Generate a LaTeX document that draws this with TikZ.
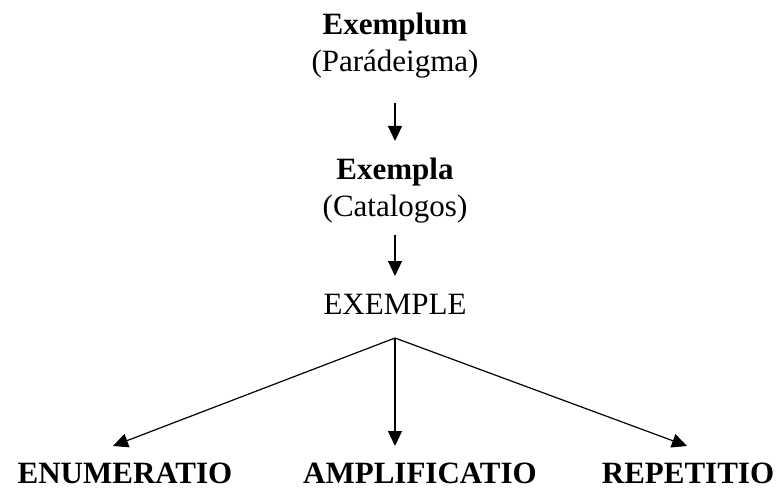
\documentclass[tikz,border=0pt]{standalone}
\usepackage{fontspec}
\setmainfont{Liberation Serif}
\usetikzlibrary{arrows.meta}

\begin{document}
\begin{tikzpicture}[x=1pt,y=-1pt,
  lbl/.style={inner sep=0pt,anchor=base,font=\fontsize{31pt}{37pt}\selectfont},
  arr/.style={line width=1.2pt,-{Triangle[length=15pt,width=14pt]}}]
\useasboundingbox (0,0) rectangle (779,489);

% Upper chain
\node[lbl] (exemplum) at (395,35) {\textbf{Exemplum}};
\node[lbl] (paradeigma) at (395,72) {(Parádeigma)};
\node[lbl] (exempla) at (395,180) {\textbf{Exempla}};
\node[lbl] (catalogos) at (395,217) {(Catalogos)};
\node[lbl] (exemple) at (395,314) {EXEMPLE};

% Bottom figures
\node[lbl] (enumeratio) at (125,483) {\textbf{ENUMERATIO}};
\node[lbl] (amplificatio) at (420,483) {\textbf{AMPLIFICATIO}};
\node[lbl] (repetitio) at (688,483) {\textbf{REPETITIO}};

% Arrows down the chain
\draw[arr] ([yshift=-31pt]paradeigma.base) -- ([yshift=39pt]exempla.base);
\draw[arr] ([yshift=-18pt]catalogos.base) -- ([yshift=38pt]exemple.base);

% Fan out
\coordinate (fork) at ([yshift=-24pt]exemple.base);
\draw[arr] (fork) -- ([xshift=-12pt,yshift=37pt]enumeratio.base);
\draw[arr] (fork) -- ([xshift=-25pt,yshift=37pt]amplificatio.base);
\draw[arr] (fork) -- ([xshift=-1pt,yshift=37pt]repetitio.base);
\end{tikzpicture}
\end{document}
